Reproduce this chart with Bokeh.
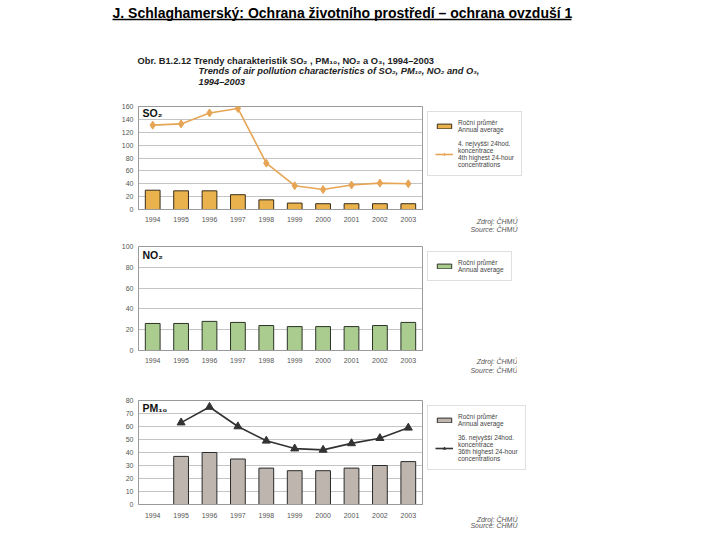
from bokeh.plotting import figure
from bokeh.models import Range1d, FactorRange, FixedTicker, Legend, LegendItem, Label, Title
from bokeh.layouts import column, row
from bokeh.embed import file_html
from bokeh.resources import INLINE

# ---------------- data ----------------
years = ["1994", "1995", "1996", "1997", "1998", "1999", "2000", "2001", "2002", "2003"]
so2_annual = [30, 29, 29, 23, 15, 10, 9, 9, 9, 9]
so2_4th_highest = [131, 133, 150, 157, 72, 37, 31, 38, 41, 40]
no2_annual = [26, 26, 28, 27, 24, 23, 23, 23, 24, 27]
pm10_years = ["1995", "1996", "1997", "1998", "1999", "2000", "2001", "2002", "2003"]
pm10_annual = [37, 40, 35, 28, 26, 26, 28, 30, 33]
pm10_36th_highest = [63, 75, 60, 49, 43, 42, 47, 51, 59]

so2_ticks = [0, 20, 40, 60, 80, 100, 120, 140, 160]
no2_ticks = [0, 20, 40, 60, 80, 100]
pm10_ticks = [0, 10, 20, 30, 40, 50, 60, 70, 80]

title_text = "J. Schlaghamerský: Ochrana životního prostředí – ochrana ovzduší 1"
cap_line1 = "Obr. B1.2.12  Trendy charakteristik SO₂ , PM₁₀, NO₂ a O₃, 1994–2003"
cap_en1 = "Trends of air pollution characteristics of SO₂, PM₁₀, NO₂ and O₃,"
cap_en2 = "1994–2003"
annual_label = "Roční průměr\nAnnual average"
so2_line_label = "4. nejvyšší 24hod.\nkoncentrace\n4th highest 24-hour\nconcentrations"
pm10_line_label = "36. nejvyšší 24hod.\nkoncentrace\n36th highest 24-hour\nconcentrations"
src_cz = "Zdroj: ČHMÚ"
src_en = "Source: ČHMÚ"

FONT = "Liberation Sans"
FRAME_W = 284
LEFT = 138

so2_color = "#E9B24C"
so2_line_color = "#E6A555"
no2_color = "#AACD8F"
pm10_color = "#BEB6AE"
pm10_line_color = "#333333"

# ---------------- header ----------------
hdr = figure(frame_width=600, frame_height=100, x_range=Range1d(0, 600), y_range=Range1d(100, 0),
             toolbar_location=None, output_backend="svg", min_border=0,
             x_axis_location=None, y_axis_location=None)
hdr.grid.visible = False
hdr.outline_line_color = None
hdr.add_layout(Label(x=112, y=12.5, text=title_text, text_font=FONT, text_font_size="14px",
                     text_font_style="bold", text_baseline="middle", text_color="#000000"))
hdr.segment(x0=[112], y0=[19], x1=[571], y1=[19], line_color="#000000", line_width=1.3)
hdr.add_layout(Label(x=137, y=60, text=cap_line1, text_font=FONT, text_font_size="9.3px",
                     text_font_style="bold", text_baseline="middle", text_color="#222222"))
hdr.add_layout(Label(x=198, y=70.5, text=cap_en1, text_font=FONT, text_font_size="9.3px",
                     text_font_style="bold italic", text_baseline="middle", text_color="#222222"))
hdr.add_layout(Label(x=198, y=81, text=cap_en2, text_font=FONT, text_font_size="9.3px",
                     text_font_style="bold italic", text_baseline="middle", text_color="#222222"))


def make_panel(top_b, frame_h, bottom_b, y_end, ticks, std, tag, tag_y, src_standoff):
    p = figure(x_range=FactorRange(*years), y_range=Range1d(0, y_end),
               frame_width=FRAME_W, frame_height=frame_h,
               min_border_left=LEFT, min_border_top=top_b, min_border_bottom=bottom_b,
               min_border_right=0, toolbar_location=None, output_backend="svg")
    p.outline_line_color = "#9a9a9a"
    p.xgrid.grid_line_color = None
    p.ygrid.grid_line_color = "#c4c4c4"
    p.ygrid.ticker = FixedTicker(ticks=ticks)
    p.yaxis.ticker = FixedTicker(ticks=ticks)
    for ax in (p.xaxis[0], p.yaxis[0]):
        ax.axis_line_color = "#9a9a9a"
        ax.major_tick_line_color = None
        ax.major_tick_out = 0
        ax.major_tick_in = 0
        ax.minor_tick_line_color = None
        ax.minor_tick_out = 0
        ax.major_label_text_font = FONT
        ax.major_label_text_font_size = "7px"
        ax.major_label_text_color = "#555555"
    p.yaxis.major_label_standoff = 5
    p.xaxis.major_label_standoff = std
    p.add_layout(Label(x=4, y=frame_h - tag_y, x_units="screen", y_units="screen", text=tag,
                       text_font=FONT, text_font_size="10.5px", text_font_style="bold",
                       text_baseline="middle", text_color="#111111"))
    for txt, so in ((src_cz, src_standoff), (src_en, 2)):
        p.add_layout(Title(text=txt, align="right", offset=-95, standoff=so,
                           vertical_align="top", text_font=FONT, text_font_size="7px",
                           text_font_style="italic", text_color="#555555"), "below")
    return p


def add_legend(p, items):
    lg = Legend(items=items, location="top_left", margin=5, padding=7, spacing=7,
                glyph_width=18, glyph_height=6, label_standoff=5,
                label_text_font=FONT, label_text_font_size="6.5px",
                label_text_color="#444444", label_text_line_height=1.1,
                border_line_color="#c0c0c0", background_fill_color="#ffffff")
    p.add_layout(lg, "right")


# ---------------- SO2 ----------------
p1 = make_panel(6, 103, 33, 160, so2_ticks, 7, "SO₂", 6, -14)
b1 = p1.vbar(x=years, top=so2_annual, width=0.52, fill_color=so2_color,
             line_color="#3a2e1a", line_width=1)
l1 = p1.line(x=years, y=so2_4th_highest, line_color=so2_line_color, line_width=1.6)
m1 = p1.scatter(x=years, y=so2_4th_highest, marker="diamond", size=8,
                fill_color=so2_line_color, line_color=so2_line_color)
add_legend(p1, [LegendItem(label=annual_label, renderers=[b1]),
                LegendItem(label=so2_line_label, renderers=[l1, m1])])

# ---------------- NO2 ----------------
p2 = make_panel(4, 104, 35, 100, no2_ticks, 7, "NO₂", 8, -16)
b2 = p2.vbar(x=years, top=no2_annual, width=0.52, fill_color=no2_color,
             line_color="#2b3326", line_width=1)
add_legend(p2, [LegendItem(label=annual_label, renderers=[b2])])

# ---------------- PM10 ----------------
p3 = make_panel(15, 104, 36, 80, pm10_ticks, 8, "PM₁₀", 7, -10)
b3 = p3.vbar(x=pm10_years, top=pm10_annual, width=0.52, fill_color=pm10_color,
             line_color="#2b2b2b", line_width=1)
l3 = p3.line(x=pm10_years, y=pm10_36th_highest, line_color=pm10_line_color, line_width=1.6)
m3 = p3.scatter(x=pm10_years, y=pm10_36th_highest, marker="triangle", size=8,
                fill_color=pm10_line_color, line_color=pm10_line_color)
add_legend(p3, [LegendItem(label=annual_label, renderers=[b3]),
                LegendItem(label=pm10_line_label, renderers=[l3, m3])])

layout = column(row(hdr), row(p1), row(p2), row(p3), spacing=0)
open("out.html", "w").write(file_html(layout, INLINE))
